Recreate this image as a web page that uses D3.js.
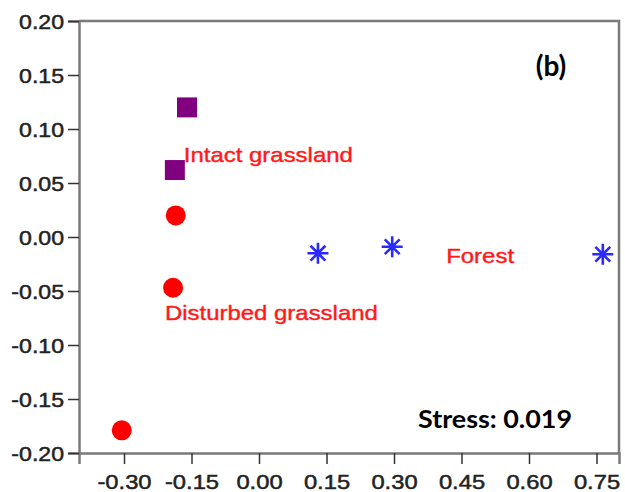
<!DOCTYPE html>
<html>
<head>
<meta charset="utf-8">
<script src="https://cdn.jsdelivr.net/npm/d3@7"></script>
<style>
  body { margin: 0; background: white; }
  svg { display: block; }
</style>
</head>
<body>
<div id="root"></div>
<script>
// NMDS scores
var intactX = [-0.160, -0.187];
var intactY = [0.120, 0.062];
var disturbedX = [-0.185, -0.191, -0.305];
var disturbedY = [0.020, -0.047, -0.179];
var forestX = [0.131, 0.296, 0.764];
var forestY = [-0.015, -0.009, -0.016];

var xTicks = [-0.30, -0.15, 0.00, 0.15, 0.30, 0.45, 0.60, 0.75];
var yTicks = [-0.20, -0.15, -0.10, -0.05, 0.00, 0.05, 0.10, 0.15, 0.20];

var groupNames = ["Intact grassland", "Disturbed grassland", "Forest"];
var groupLabelX = [-0.167, -0.209, 0.416];
var groupLabelY = [0.069, -0.077, -0.024];

var w = 625, h = 492;
var margin = { top: 21, right: 6, bottom: 39, left: 79 };

var svg = d3.select("#root").append("svg").attr("width", w).attr("height", h);

var xScale = d3.scaleLinear().domain([-0.4, 0.8]).range([margin.left, w - margin.right]);
var yScale = d3.scaleLinear().domain([-0.2, 0.2]).range([h - margin.bottom, margin.top]);

// plain hyphen for negatives, like the original
var fmt = function(d) { return d.toFixed(2); };

// widen text like in the original export
function widen(sel, k) {
  sel.each(function() {
    var len = this.getComputedTextLength();
    d3.select(this).attr("textLength", len * k).attr("lengthAdjust", "spacingAndGlyphs");
  });
}

// frame: top and right
svg.append("path")
  .attr("d", "M" + margin.left + "," + margin.top + "H" + (w - margin.right) + "V" + (h - margin.bottom))
  .attr("fill", "none").attr("stroke", "#7a7a7a").attr("stroke-width", 2.5);

// x axis
var xAxis = d3.axisBottom(xScale).tickValues(xTicks).tickFormat(fmt).tickSize(11).tickPadding(6);
var gx = svg.append("g").attr("transform", "translate(0," + (h - margin.bottom) + ")").call(xAxis);

// y axis
var yAxis = d3.axisLeft(yScale).tickValues(yTicks).tickFormat(fmt).tickSize(11).tickPadding(4);
var gy = svg.append("g").attr("transform", "translate(" + margin.left + ",0)").call(yAxis);

[gx, gy].forEach(function(g) {
  g.select(".domain").attr("stroke", "#7a7a7a").attr("stroke-width", 2.5);
  g.selectAll(".tick line").attr("stroke", "#333").attr("stroke-width", 1.5);
  g.selectAll(".tick text").attr("fill", "#222").attr("stroke", "#222").attr("stroke-width", 0.5)
    .style("font-family", "'Liberation Sans', Arial, sans-serif").style("font-size", "21px");
});
gx.selectAll(".tick text").attr("dy", "0.9em");
gy.selectAll(".tick text").attr("dy", "0.36em");
widen(gx.selectAll(".tick text"), 1.13);
widen(gy.selectAll(".tick text"), 1.1);

// points
var intact = intactX.map(function(d, i) { return [d, intactY[i]]; });
var disturbed = disturbedX.map(function(d, i) { return [d, disturbedY[i]]; });
var forest = forestX.map(function(d, i) { return [d, forestY[i]]; });

svg.selectAll(".sq").data(intact).enter().append("path")
  .attr("d", d3.symbol().type(d3.symbolSquare).size(400))
  .attr("transform", function(d) { return "translate(" + xScale(d[0]) + "," + yScale(d[1]) + ")"; })
  .attr("fill", "#800080");

svg.selectAll(".ci").data(disturbed).enter().append("path")
  .attr("d", d3.symbol().type(d3.symbolCircle).size(Math.PI * 100))
  .attr("transform", function(d) { return "translate(" + xScale(d[0]) + "," + yScale(d[1]) + ")"; })
  .attr("fill", "#ff0000");

// 8-armed asterisk
var r = 10.5, q = r * Math.SQRT1_2;
var starPath = "M" + -r + ",0H" + r + "M0," + -r + "V" + r +
  "M" + -q + "," + -q + "L" + q + "," + q + "M" + -q + "," + q + "L" + q + "," + -q;
svg.selectAll(".st").data(forest).enter().append("path")
  .attr("d", starPath)
  .attr("transform", function(d) { return "translate(" + xScale(d[0]) + "," + yScale(d[1]) + ")"; })
  .attr("fill", "none").attr("stroke", "#2a2aff").attr("stroke-width", 2.6);

// group labels
var labels = svg.selectAll(".lab").data(groupNames).enter().append("text")
  .attr("x", function(d, i) { return xScale(groupLabelX[i]); })
  .attr("y", function(d, i) { return yScale(groupLabelY[i]); })
  .attr("fill", "#ff1a1a").attr("stroke", "#ff1a1a").attr("stroke-width", 0.4)
  .style("font-family", "'Liberation Sans', Arial, sans-serif")
  .style("font-size", "21px")
  .text(function(d) { return d; });
widen(labels, 1.14);

// panel letter and stress
svg.append("text").attr("x", 551).attr("y", 76).attr("text-anchor", "middle")
  .style("font-family", "Lato, 'Open Sans', sans-serif").style("font-weight", "bold").style("font-size", "28px")
  .attr("fill", "#000").text("(b)");

var stress = svg.append("text").attr("x", 418).attr("y", 428)
  .style("font-family", "Lato, 'Open Sans', sans-serif").style("font-weight", "bold").style("font-size", "25px")
  .attr("fill", "#000").text("Stress: 0.019");
stress.attr("textLength", 154).attr("lengthAdjust", "spacingAndGlyphs");
</script>
</body>
</html>
